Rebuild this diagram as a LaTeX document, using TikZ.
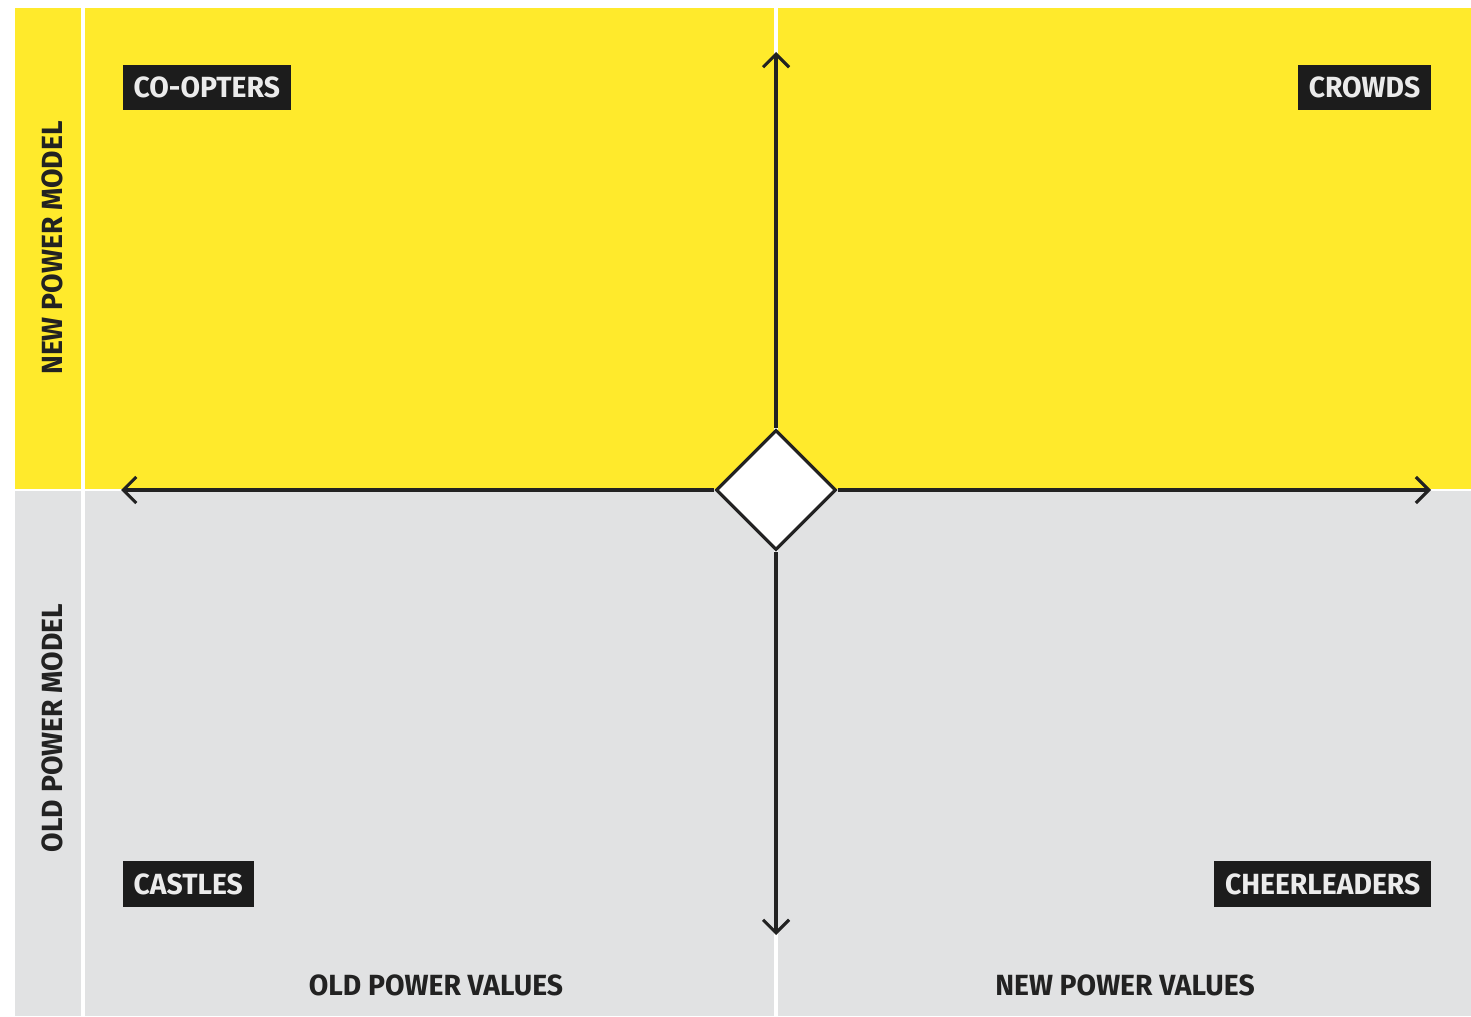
\documentclass[tikz,border=0pt]{standalone}
\usepackage{fontspec}
\usepackage{tikz}
\usetikzlibrary{arrows.meta,shapes.geometric}
\newfontfamily\labelfont{Fira Sans}[FakeStretch=0.97]
\definecolor{PowerYellow}{HTML}{FFEA2C}
\definecolor{PowerGrey}{HTML}{E1E2E3}
\definecolor{TagBlack}{HTML}{1C1C1C}
\definecolor{InkGrey}{HTML}{222222}

\tikzset{
  tag/.style={fill=TagBlack, text=white!92!black, inner xsep=0.11cm, inner ysep=0pt,
    minimum height=0.45cm, font=\labelfont\bfseries\fontsize{8.3}{10}\selectfont},
  sidelabel/.style={text=InkGrey, inner sep=0pt,
    font=\labelfont\bfseries\fontsize{8.3}{10}\selectfont},
  axis/.style={draw=InkGrey, line width=0.9pt, -{Straight Barb[length=1.3mm,width=2.6mm]}},
  hub/.style={diamond, draw=InkGrey, fill=white, line width=0.9pt, inner sep=0pt,
    minimum width=1.2cm, minimum height=1.2cm}
}

\begin{document}
\begin{tikzpicture}[x=0.01cm,y=-0.01cm]
        \useasboundingbox (0,0) rectangle (1471,1016);
        \fill[PowerYellow] (15,8) rectangle (1471,490);
        \fill[PowerGrey] (15,490) rectangle (1471,1016);
        \draw[white, line width=0.9pt] (83,8) -- (83,1016);
        \draw[white, line width=0.9pt] (776,8) -- (776,1016);
        \draw[white, line width=0.4pt] (15,490) -- (1471,490);

        \node[hub] (hub) at (776,490) {};
        \coordinate (top) at (776,52);
        \coordinate (bottom) at (776,935);
        \coordinate (left) at (121,490);
        \coordinate (right) at (1431,490);

        \draw[axis] (hub.north) -- (top);
        \draw[axis] (hub.south) -- (bottom);
        \draw[axis] (hub.west) -- (left);
        \draw[axis] (hub.east) -- (right);

        \node[tag, anchor=west] (coopters) at (122,87.5) {CO-OPTERS};
        \node[tag, anchor=east] (crowds) at (1432,87.5) {CROWDS};
        \node[tag, anchor=west] (castles) at (122,884) {CASTLES};
        \node[tag, anchor=east] (cheerleaders) at (1432,884) {CHEERLEADERS};

        \node[sidelabel, rotate=90] (newmodel) at (52,248) {NEW POWER MODEL};
        \node[sidelabel, rotate=90] (oldmodel) at (52,728) {OLD POWER MODEL};
        \node[sidelabel] (oldvalues) at (436,985) {OLD POWER VALUES};
        \node[sidelabel] (newvalues) at (1125,985) {NEW POWER VALUES};
\end{tikzpicture}
\end{document}
